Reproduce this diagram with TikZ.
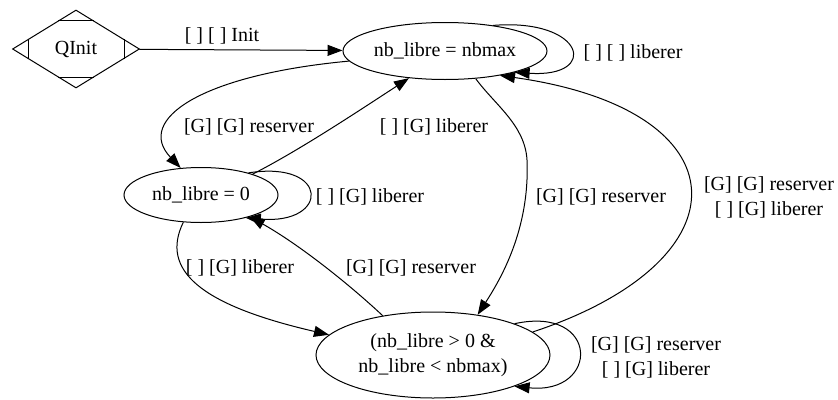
\documentclass[tikz,border=0pt]{standalone}
\usepackage{fontspec}
\setmainfont{Liberation Serif}
\usetikzlibrary{shapes.geometric, arrows.meta, calc}

\begin{document}
\begin{tikzpicture}[
    x=1pt, y=-1pt,
    font=\fontsize{20}{25}\selectfont,
    state/.style={draw, ellipse, inner sep=0pt, align=center, line width=1pt},
    start/.style={draw, diamond, inner sep=0pt, minimum width=127pt, minimum height=78pt, line width=1pt},
    arrow/.style={-{Triangle[length=15pt, width=11pt]}, line width=1pt},
    lbl/.style={align=center, inner sep=0pt}
]
\useasboundingbox (0,0) rectangle (838,399);

\node[start] (qinit) at (76,49) {QInit};
\node[state, minimum width=204pt, minimum height=57pt] (full) at (445,51) {nb\_libre = nbmax};
\node[state, minimum width=154pt, minimum height=55pt] (empty) at (201,195) {nb\_libre = 0};
\node[state, minimum width=234pt, minimum height=86pt] (mid) at (433,355) {(nb\_libre > 0 \&\\nb\_libre < nbmax)};

% marks in the corners of the start diamond
\draw[line width=1pt] ($(qinit.west)!0.25!(qinit.north)$) -- ($(qinit.west)!0.25!(qinit.south)$);
\draw[line width=1pt] ($(qinit.east)!0.25!(qinit.north)$) -- ($(qinit.east)!0.25!(qinit.south)$);
\draw[line width=1pt] ($(qinit.north)!0.28!(qinit.west)$) -- ($(qinit.north)!0.28!(qinit.east)$);
\draw[line width=1pt] ($(qinit.south)!0.28!(qinit.west)$) -- ($(qinit.south)!0.28!(qinit.east)$);

\draw[arrow] (qinit) -- (full);
\draw[arrow] (full.28) .. controls (585,18) and (600,78) .. (full.-17);
\draw[arrow] (full.186) .. controls (200,75) and (135,120) .. (empty.127);
\draw[arrow] (empty.22) .. controls (300,150) and (360,110) .. (full.217);
\draw[arrow] (empty.25) .. controls (330,160) and (330,225) .. (empty.-27);
\draw[arrow] (empty.237) .. controls (160,270) and (200,305) .. (mid.169);
\draw[arrow] (mid.142) .. controls (350,285) and (300,245) .. (empty.-24);
\draw[arrow] (full.-42) .. controls (495,105) and (525,125) .. (527,160) .. controls (530,230) and (500,280) .. (mid.42);
\draw[arrow] (mid.13) .. controls (750,260) and (745,110) .. (full.-24);
\draw[arrow] (mid.21) .. controls (600,305) and (600,395) .. (mid.-21);

\node[lbl] (l-init) at (222,36) {[ ] [ ] Init};
\node[lbl] (l-fullloop) at (633,53) {[ ] [ ] liberer};
\node[lbl] (l-res1) at (249,127) {[G] [G] reserver};
\node[lbl] (l-lib1) at (434,127) {[ ] [G] liberer};
\node[lbl] (l-emptyloop) at (370,197) {[ ] [G] liberer};
\node[lbl] (l-lib2) at (240,268) {[ ] [G] liberer};
\node[lbl] (l-res2) at (411,268) {[G] [G] reserver};
\node[lbl] (l-res3) at (601,197) {[G] [G] reserver};
\node[lbl] (l-back) at (769,197) {[G] [G] reserver\\{}[ ] [G] liberer};
\node[lbl] (l-midloop) at (656,357) {[G] [G] reserver\\{}[ ] [G] liberer};

\end{tikzpicture}
\end{document}
